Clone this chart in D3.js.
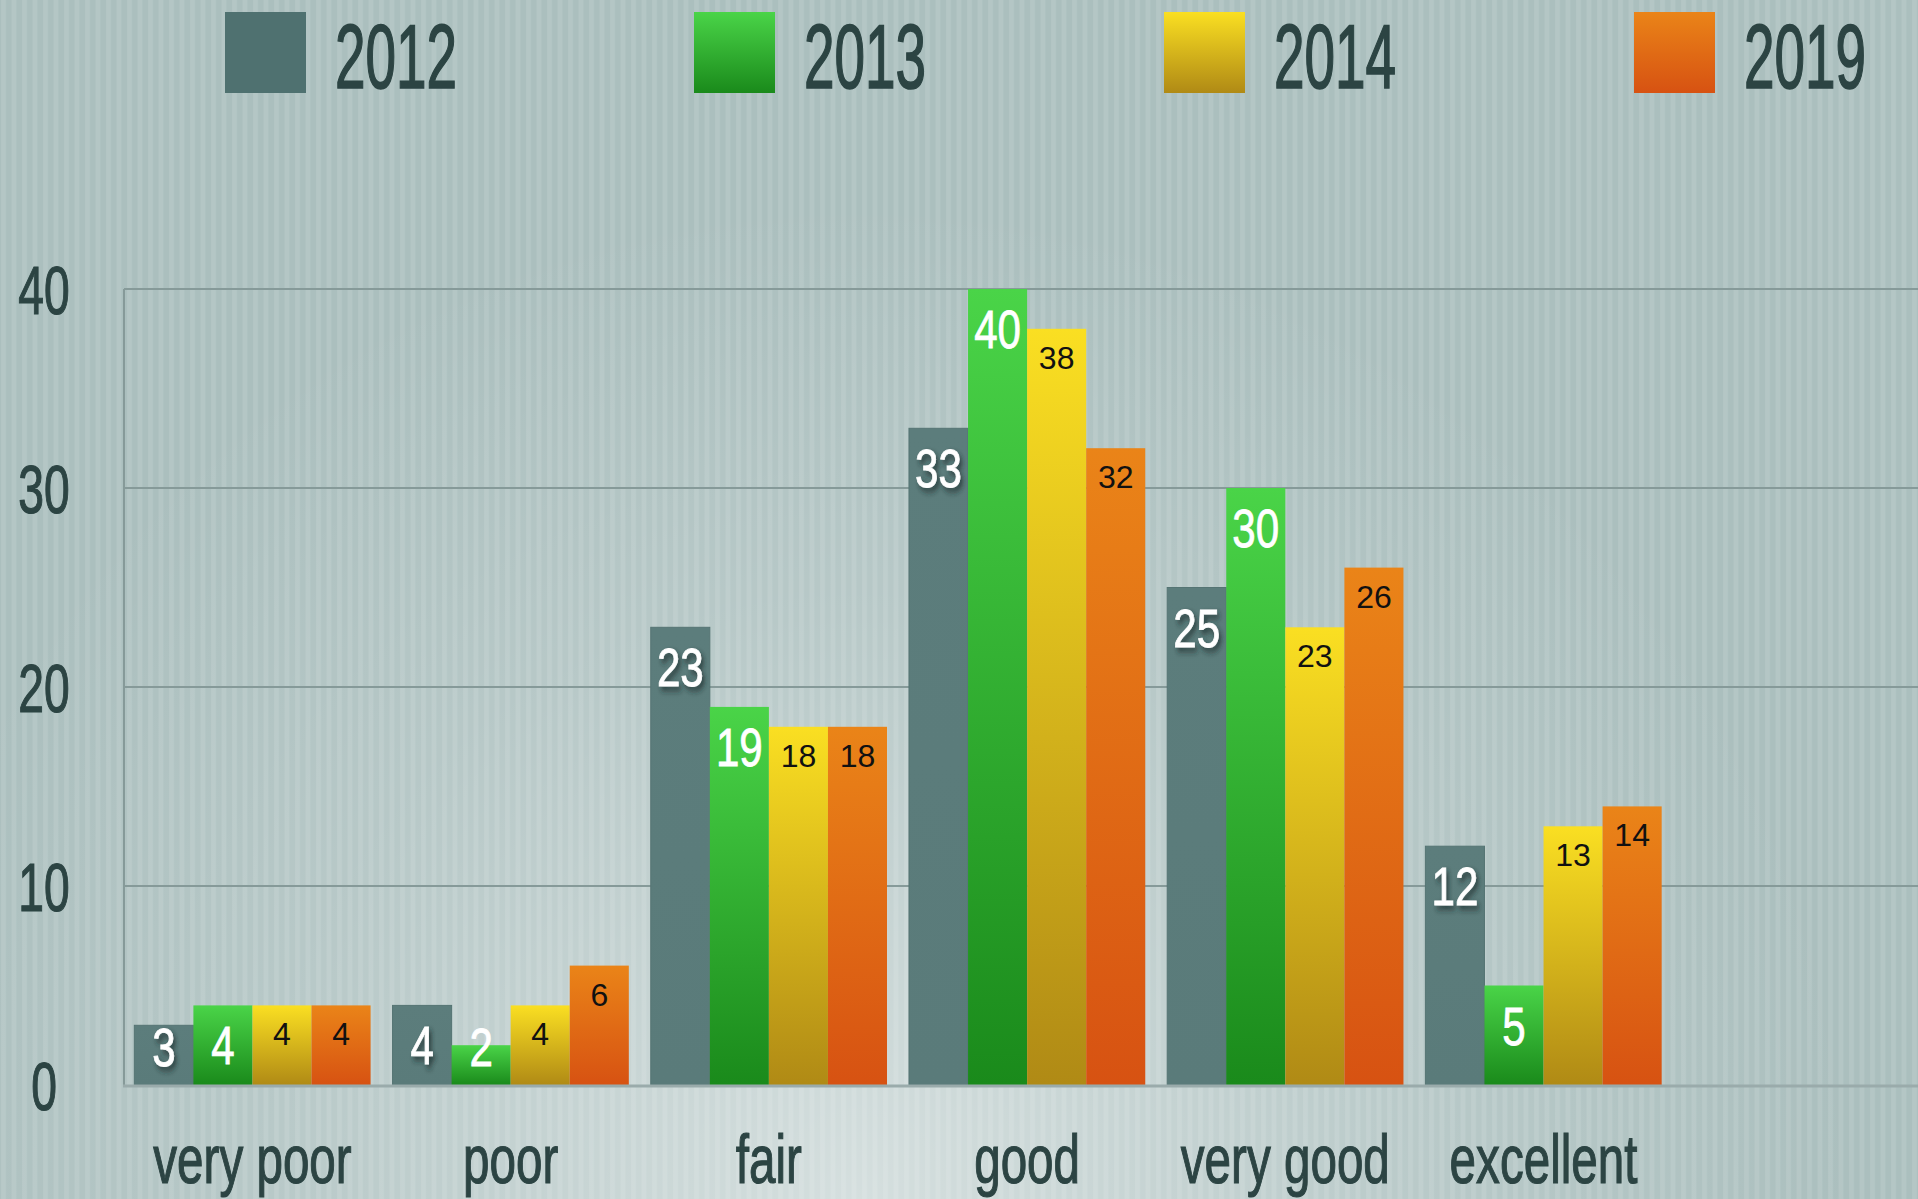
<!DOCTYPE html>
<html>
<head>
<meta charset="utf-8">
<script src="https://cdn.jsdelivr.net/npm/d3@7"></script>
<style>
  html, body { margin: 0; padding: 0; overflow: hidden; background: #b3c5c4; }
  svg { display: block; }
</style>
</head>
<body>
<script>
var W = 1918, H = 1199;

// data
var categories = ["very poor", "poor", "fair", "good", "very good", "excellent"];
var years = ["2012", "2013", "2014", "2019"];
var v2012 = [3, 4, 23, 33, 25, 12];
var v2013 = [4, 2, 19, 40, 30, 5];
var v2014 = [4, 4, 18, 38, 23, 13];
var v2019 = [4, 6, 18, 32, 26, 14];
var yTicks = [0, 10, 20, 30, 40];

var series = [v2012, v2013, v2014, v2019];

// colours: [top, bottom] of each bar gradient
var fills = {
  "2012": ["#5c7d7c", "#5a7b7a"],
  "2013": ["#4ad448", "#1a8a1b"],
  "2014": ["#fadf22", "#b08a15"],
  "2019": ["#ea8418", "#d75212"]
};
var legendFills = {
  "2012": ["#4f7170", "#4f7170"],
  "2013": ["#4ad448", "#1a8a1b"],
  "2014": ["#fadf22", "#b08a15"],
  "2019": ["#ea8418", "#d75212"]
};

var ink = "#2c4443";
var condensed = "'Liberation Sans Narrow', 'Liberation Sans', Arial, sans-serif";

var svg = d3.select("body").append("svg")
    .attr("width", W)
    .attr("height", H);

var defs = svg.append("defs");

// striped background
var pat = defs.append("pattern")
    .attr("id", "stripes")
    .attr("patternUnits", "userSpaceOnUse")
    .attr("width", 10.5).attr("height", 10);
pat.append("rect").attr("width", 10.5).attr("height", 10).attr("fill", "#abbfbe");
pat.append("rect").attr("x", 1).attr("width", 5).attr("height", 10).attr("fill", "#b4c6c5");

var glow = defs.append("radialGradient")
    .attr("id", "glow")
    .attr("gradientUnits", "userSpaceOnUse")
    .attr("cx", 860).attr("cy", 1199).attr("r", 1000);
glow.append("stop").attr("offset", "0").attr("stop-color", "#ffffff").attr("stop-opacity", 0.5);
glow.append("stop").attr("offset", "0.6").attr("stop-color", "#ffffff").attr("stop-opacity", 0.15);
glow.append("stop").attr("offset", "1").attr("stop-color", "#ffffff").attr("stop-opacity", 0);

svg.append("rect").attr("width", W).attr("height", H).attr("fill", "url(#stripes)");
svg.append("rect").attr("width", W).attr("height", H).attr("fill", "url(#glow)");

function grad(id, c) {
  var g = defs.append("linearGradient")
      .attr("id", id)
      .attr("x1", 0).attr("y1", 0).attr("x2", 0).attr("y2", 1);
  g.append("stop").attr("offset", "0").attr("stop-color", c[0]);
  g.append("stop").attr("offset", "1").attr("stop-color", c[1]);
}
years.forEach(function(y) {
  grad("bar" + y, fills[y]);
  grad("leg" + y, legendFills[y]);
});

var shadow = defs.append("filter").attr("id", "shadow")
    .attr("x", "-50%").attr("y", "-50%").attr("width", "200%").attr("height", "200%");
shadow.append("feDropShadow")
    .attr("dx", 3).attr("dy", 4).attr("stdDeviation", 3)
    .attr("flood-color", "#1d2c2c").attr("flood-opacity", 0.75);

// scales
var left = 124, axisY = 1085;
var y = d3.scaleLinear().domain([0, 40]).range([axisY, 289]);
var x0 = d3.scaleBand().domain(categories)
    .range([left, left + 1548])
    .paddingInner(0.085).paddingOuter(0.04);
var x1 = d3.scaleBand().domain(years).range([0, x0.bandwidth()]).padding(0);

// gridlines
svg.append("g").selectAll("line")
  .data(yTicks.filter(function(t) { return t > 0; }))
  .join("line")
    .attr("x1", left).attr("x2", W)
    .attr("y1", function(d) { return y(d); })
    .attr("y2", function(d) { return y(d); })
    .attr("stroke", "#869a99").attr("stroke-width", 2);

svg.append("line")
    .attr("x1", left).attr("x2", left)
    .attr("y1", y(40)).attr("y2", axisY)
    .attr("stroke", "#869a99").attr("stroke-width", 2);

// y tick labels
svg.append("g").selectAll("text")
  .data(yTicks)
  .join("text")
    .attr("transform", function(d) { return "translate(44," + (y(d) + 25) + ") scale(0.68,1)"; })
    .attr("text-anchor", "middle")
    .attr("font-family", condensed)
    .attr("font-size", 68)
    .attr("fill", ink)
    .attr("stroke", ink).attr("stroke-width", 1.2)
    .text(function(d) { return d; });

// bars
var groups = svg.append("g").selectAll("g")
  .data(categories)
  .join("g")
    .attr("transform", function(d) { return "translate(" + x0(d) + ",0)"; });

var bars = groups.selectAll("g.bar")
  .data(function(c, i) {
    return years.map(function(yr, j) { return {year: yr, value: series[j][i]}; });
  })
  .join("g").attr("class", "bar");

bars.append("rect")
    .attr("x", function(d) { return x1(d.year); })
    .attr("width", x1.bandwidth())
    .attr("y", function(d) { return y(d.value); })
    .attr("height", function(d) { return axisY - y(d.value); })
    .attr("fill", function(d) { return "url(#bar" + d.year + ")"; })
    .attr("stroke", function(d) { return d.year == "2012" ? "#557473" : "none"; })
    .attr("stroke-width", 1);

// value labels: white condensed for 2012/2013, black for 2014/2019
bars.append("text")
    .attr("transform", function(d) {
      var cx = x1(d.year) + x1.bandwidth() / 2;
      var white = d.year == "2012" || d.year == "2013";
      var by = white ? Math.min(y(d.value) + 59, axisY - 19) : y(d.value) + 40;
      return "translate(" + cx + "," + by + ")" + (white ? " scale(0.78,1)" : "");
    })
    .attr("text-anchor", "middle")
    .attr("font-family", function(d) {
      return (d.year == "2012" || d.year == "2013") ? condensed : "'Liberation Sans', Arial, sans-serif";
    })
    .attr("font-size", function(d) { return (d.year == "2012" || d.year == "2013") ? 54 : 32; })
    .attr("fill", function(d) { return (d.year == "2012" || d.year == "2013") ? "#ffffff" : "#111111"; })
    .attr("stroke", function(d) { return (d.year == "2012" || d.year == "2013") ? "#ffffff" : "none"; })
    .attr("stroke-width", 0.8)
    .attr("filter", function(d) { return d.year == "2012" ? "url(#shadow)" : null; })
    .text(function(d) { return d.value; });

// bottom axis line
svg.append("line")
    .attr("x1", left - 1).attr("x2", W)
    .attr("y1", axisY + 1).attr("y2", axisY + 1)
    .attr("stroke", "#9aabab").attr("stroke-width", 3);

// category labels
svg.append("g").selectAll("text")
  .data(categories)
  .join("text")
    .attr("transform", function(d) {
      return "translate(" + (x0(d) + x0.bandwidth() / 2) + ",1183) scale(0.7,1)";
    })
    .attr("text-anchor", "middle")
    .attr("font-family", condensed)
    .attr("font-size", 68)
    .attr("fill", ink)
    .attr("stroke", ink).attr("stroke-width", 1.2)
    .text(function(d) { return d; });

// legend
var legendX = [225, 694, 1164, 1634];
var legend = svg.append("g").selectAll("g")
  .data(years)
  .join("g")
    .attr("transform", function(d, i) { return "translate(" + legendX[i] + ",12)"; });

legend.append("rect")
    .attr("width", 81).attr("height", 81)
    .attr("fill", function(d) { return "url(#leg" + d + ")"; });

legend.append("text")
    .attr("transform", "translate(110,76) scale(0.61,1)")
    .attr("font-family", condensed)
    .attr("font-size", 90)
    .attr("fill", ink)
    .attr("stroke", ink).attr("stroke-width", 1.6)
    .text(function(d) { return d; });
</script>
</body>
</html>
